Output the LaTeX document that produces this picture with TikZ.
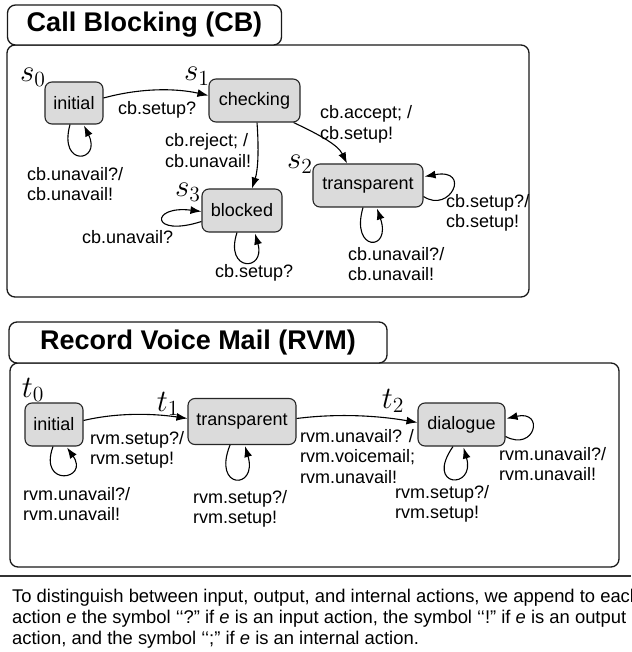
\RequirePackage{fix-cm}
\documentclass[tikz,border=0pt]{standalone}
\usepackage{graphicx}
\usepackage{fontspec}
\setmainfont{Liberation Sans}
\usetikzlibrary{arrows.meta,calc}
\newcommand{\statelabel}[1]{\scalebox{1.8}{$#1$}}
\begin{document}
\begin{tikzpicture}[x=1pt,y=-1pt,
  state/.style={draw=black!85, line width=1.1pt, fill=black!14, rounded corners=7pt,
    font=\fontsize{18}{20}\selectfont, inner sep=0pt},
  frame/.style={draw=black!90, line width=1.3pt, rounded corners=8pt, inner sep=0pt},
  titlebox/.style={frame, fill=white, font=\fontsize{27}{30}\selectfont\bfseries},
  lbl/.style={font=\fontsize{18}{20.5}\selectfont, align=left, inner sep=0pt, anchor=base west},
  slbl/.style={font=\fontsize{17.28}{20}\selectfont, inner sep=0pt},
  arr/.style={-{Latex[length=11pt,width=8pt]}, line width=1.1pt},
]
\useasboundingbox (0,0) rectangle (631,652);
% ---------- Call Blocking ----------
\node[frame, minimum width=522pt, minimum height=252pt] (cbframe) at (268,171) {};
\node[titlebox, minimum width=274pt, minimum height=40pt] (cbtitle) at (144.5,25) {Call Blocking (CB)};

\node[state, minimum width=58pt, minimum height=42pt] (i0) at (74,103) {initial};
\node[state, minimum width=91pt, minimum height=43pt] (c0) at (254.5,100.5) {checking};
\node[state, minimum width=110pt, minimum height=43pt] (tr0) at (368,185.5) {transparent};
\node[state, minimum width=80pt, minimum height=43pt] (b0) at (242,210.5) {blocked};

\node[slbl] (s0) at (33,77) {\statelabel{s_0}};
\node[slbl] (s1) at (197,76) {\statelabel{s_1}};
\node[slbl] (s2) at (300,164) {\statelabel{s_2}};
\node[slbl] (s3) at (188,192) {\statelabel{s_3}};

\draw[arr] ($(i0.east)+(0,-5)$) .. controls (140,88) and (175,88) .. ($(c0.west)+(0,-5)$);
\draw[arr] ($(i0.south)+(-4,0)$) .. controls (58,168) and (102,162) .. ($(i0.south)+(10,1)$);
\draw[arr] ($(c0.south)+(2.5,0)$) .. controls (259,150) and (258,170) .. ($(b0.north)+(10,0)$);
\draw[arr] ($(c0.south east)+(-7,0)$) .. controls (320,135) and (338,145) .. ($(tr0.north)+(-21,0)$);
\draw[arr] ($(tr0.east)+(0,11)$) .. controls (450,214) and (472,168) .. ($(tr0.east)+(1,-9)$);
\draw[arr] ($(tr0.south)+(-5,0)$) .. controls (350,252) and (392,252) .. ($(tr0.south)+(9,1)$);
\draw[arr] ($(b0.west)+(0,11)$) .. controls (150,238) and (150,205) .. ($(b0.west)+(0,1)$);
\draw[arr] ($(b0.south)+(-5,0)$) .. controls (224,272) and (266,272) .. ($(b0.south)+(13,1)$);

\node[lbl] (l1) at (118,115) {cb.setup?};
\node[lbl] (l2) at (27,200.5) {cb.unavail?/\\cb.unavail!};
\node[lbl] (l3) at (165,167.5) {cb.reject; /\\cb.unavail!};
\node[lbl] (l4) at (320,139.5) {cb.accept; /\\cb.setup!};
\node[lbl] (l5) at (446,227.5) {cb.setup?/\\cb.setup!};
\node[lbl] (l6) at (348,280.5) {cb.unavail?/\\cb.unavail!};
\node[lbl] (l7) at (82,243) {cb.unavail?};
\node[lbl] (l8) at (215,277) {cb.setup?};

% ---------- Record Voice Mail ----------
\node[frame, minimum width=609pt, minimum height=204pt] (rvmframe) at (314.5,465) {};
\node[titlebox, minimum width=378pt, minimum height=41pt] (rvmtitle) at (198,342.5) {Record Voice Mail (RVM)};

\node[state, minimum width=58pt, minimum height=43pt] (i1) at (54,424.5) {initial};
\node[state, minimum width=108pt, minimum height=46pt] (t1) at (242,421.5) {transparent};
\node[state, minimum width=87pt, minimum height=43pt] (d1) at (461.5,424.5) {dialogue};

\node[slbl] (tl0) at (33,390) {\statelabel{t_0}};
\node[slbl] (tl1) at (168,404) {\statelabel{t_1}};
\node[slbl] (tl2) at (393,401) {\statelabel{t_2}};

\draw[arr] ($(i1.east)+(0,-4)$) .. controls (115,413) and (150,413) .. ($(t1.west)+(0,-3)$);
\draw[arr] ($(i1.south)+(-1,0)$) .. controls (38,488) and (90,480) .. ($(i1.south)+(13,1)$);
\draw[arr] ($(t1.south)+(-12,0)$) .. controls (212,490) and (258,490) .. ($(t1.south)+(3,1)$);
\draw[arr] ($(t1.east)+(0,-3)$) .. controls (340,413) and (380,416) .. ($(d1.west)+(0,-2)$);
\draw[arr] ($(d1.east)+(0,12)$) .. controls (535,452) and (545,410) .. ($(d1.east)+(1,-6)$);
\draw[arr] ($(d1.south)+(-8.5,0)$) .. controls (424,488) and (476,490) .. ($(d1.south)+(2,1)$);

\node[lbl] (m1) at (90,464.5) {rvm.setup?/\\rvm.setup!};
\node[lbl] (m2) at (23,520.5) {rvm.unavail?/\\rvm.unavail!};
\node[lbl] (m3) at (193,523.5) {rvm.setup?/\\rvm.setup!};
\node[lbl] (m4) at (300,483) {rvm.unavail? /\\rvm.voicemail;\\rvm.unavail!};
\node[lbl] (m5) at (499,480.5) {rvm.unavail?/\\rvm.unavail!};
\node[lbl] (m6) at (395,518.5) {rvm.setup?/\\rvm.setup!};

% ---------- note ----------
\coordinate (sepL) at (0,576);
\coordinate (sepR) at (631,576);
\draw[line width=2pt, black!80] (sepL) -- (sepR);
\node[lbl, font=\fontsize{18.4}{21}\selectfont] (note) at (12,644)
  {To distinguish between input, output, and internal actions, we append to each\\
   action \textit{e} the symbol \symbol{96}\symbol{96}?\symbol{34} if \textit{e} is an input action, the symbol \symbol{96}\symbol{96}!\symbol{34} if \textit{e} is an output\\
   action, and the symbol \symbol{96}\symbol{96};\symbol{34} if \textit{e} is an internal action.};
\end{tikzpicture}
\end{document}
